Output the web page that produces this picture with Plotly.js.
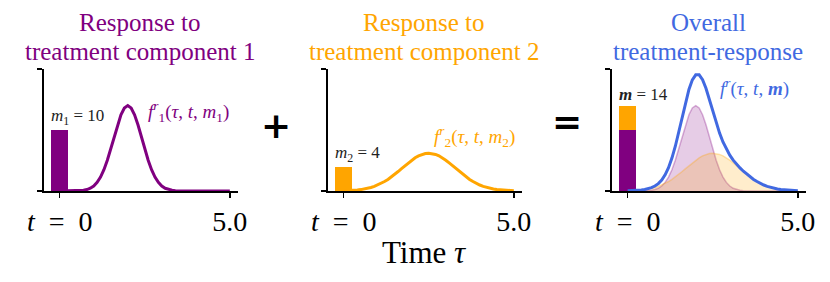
<!DOCTYPE html>
<html><head><meta charset="utf-8">
<script src="https://cdn.plot.ly/plotly-3.0.1.min.js"></script>
<style>html,body{margin:0;padding:0;background:#fff;}#c{width:830px;height:282px;}</style>
</head><body><div id="c"></div>
<script>
// Time grid (tau)
const tau = [0.0,0.1,0.2,0.3,0.4,0.5,0.6,0.7,0.8,0.9,1.0,1.1,1.2,1.3,1.4,1.5,1.6,1.7,1.8,1.9,2.0,2.1,2.2,2.3,2.4,2.5,2.6,2.7,2.8,2.9,3.0,3.1,3.2,3.3,3.4,3.5,3.6,3.7,3.8,3.9,4.0,4.1,4.2,4.3,4.4,4.5,4.6,4.7,4.8,4.9,5.0];
// Response to treatment component 1
const resp1 = [0,0,0,0,0.01,0.02,0.05,0.12,0.24,0.45,0.82,1.41,2.28,3.49,5.05,6.89,8.90,10.85,12.50,13.61,14.00,13.61,12.50,10.85,8.90,6.89,5.05,3.49,2.28,1.41,0.82,0.45,0.24,0.12,0.05,0.02,0.01,0,0,0,0,0,0,0,0,0,0,0,0,0,0];
// Response to treatment component 2
const resp2 = [0.04,0.05,0.08,0.12,0.17,0.23,0.32,0.43,0.58,0.76,0.98,1.24,1.55,1.90,2.29,2.73,3.19,3.66,4.14,4.61,5.05,5.44,5.76,6.00,6.15,6.20,6.15,6.00,5.76,5.44,5.05,4.61,4.14,3.66,3.19,2.73,2.29,1.90,1.55,1.24,0.98,0.76,0.58,0.43,0.32,0.23,0.17,0.12,0.08,0.05,0.04];
// Overall treatment-response
const respAll = [0.04,0.05,0.08,0.12,0.18,0.25,0.37,0.55,0.82,1.21,1.80,2.65,3.83,5.39,7.34,9.62,12.09,14.51,16.64,18.22,19.05,19.05,18.26,16.85,15.05,13.09,11.20,9.49,8.04,6.85,5.87,5.06,4.38,3.78,3.24,2.75,2.30,1.90,1.55,1.24,0.98,0.76,0.58,0.43,0.32,0.23,0.17,0.12,0.08,0.05,0.04];
// Treatment doses at t = 0
const doseT = [0];
const dose1 = [10];
const dose2 = [4];
const doseAll = 14;
const xTickVals = [0, 5];
const xTickText = ['<i>t</i>\u2002=\u20020', '5.0'];
const yTickVals = [0, 20];

const PURPLE = '#800080', ORANGE = '#FFA500', BLUE = '#4169E1';
const SERIF = 'Liberation Serif, DejaVu Serif, serif';
const W = 830, H = 282;
const px = v => v / W;
const py = v => (H - v) / H;

const traces = [
  {type:'bar', x:doseT, y:dose1, width:0.5, marker:{color:PURPLE}, xaxis:'x', yaxis:'y'},
  {type:'scatter', mode:'lines', x:tau, y:resp1, line:{color:PURPLE, width:3}, xaxis:'x', yaxis:'y'},
  {type:'bar', x:doseT, y:dose2, width:0.5, marker:{color:ORANGE}, xaxis:'x2', yaxis:'y2'},
  {type:'scatter', mode:'lines', x:tau, y:resp2, line:{color:ORANGE, width:3}, xaxis:'x2', yaxis:'y2'},
  {type:'bar', x:doseT, y:dose1, width:0.5, marker:{color:PURPLE}, xaxis:'x3', yaxis:'y3'},
  {type:'bar', x:doseT, y:dose2, width:0.5, marker:{color:ORANGE}, xaxis:'x3', yaxis:'y3'},
  {type:'scatter', mode:'lines', x:tau, y:resp1, fill:'tozeroy', fillcolor:'rgba(128,0,128,0.2)', line:{color:'rgba(128,0,128,0.3)', width:1.5}, xaxis:'x3', yaxis:'y3'},
  {type:'scatter', mode:'lines', x:tau, y:resp2, fill:'tozeroy', fillcolor:'rgba(255,165,0,0.2)', line:{color:'rgba(255,165,0,0.3)', width:1.5}, xaxis:'x3', yaxis:'y3'},
  {type:'scatter', mode:'lines', x:tau, y:respAll, line:{color:BLUE, width:3}, xaxis:'x3', yaxis:'y3'}
];

const panels = [[42, 238], [326, 522], [610, 806]];
const layout = {
  width: W, height: H, margin:{l:0,r:0,t:0,b:0},
  paper_bgcolor:'#fff', plot_bgcolor:'rgba(0,0,0,0)',
  showlegend:false, barmode:'stack',
  font:{family:SERIF, color:'#000'},
  annotations:[]
};
panels.forEach((p, i) => {
  const s = i === 0 ? '' : String(i + 1);
  layout['xaxis' + s] = {
    domain:[px(p[0]), px(p[1])], range:[-0.52, 5.24], anchor:'y' + s,
    showgrid:false, zeroline:false, showline:true, linecolor:'#000', linewidth:1.5,
    ticks:'outside', ticklen:5, tickwidth:1.5, tickcolor:'#000',
    tickvals:xTickVals, ticktext:xTickText, tickfont:{family:SERIF, size:28, color:'#000'},
    fixedrange:true
  };
  layout['yaxis' + s] = {
    domain:[py(191), py(69)], range:[0, 20], anchor:'free', position:px(p[0]),
    showgrid:false, zeroline:false, showline:true, linecolor:'#000', linewidth:1.5,
    ticks:'outside', ticklen:5, tickwidth:1.5, tickcolor:'#000',
    tickvals:yTickVals, showticklabels:false, fixedrange:true
  };
});

const titles = [
  ['Response to', 'treatment component 1', PURPLE],
  ['Response to', 'treatment component 2', ORANGE],
  ['Overall', 'treatment-response', BLUE]
];
titles.forEach((t, i) => {
  const cx = px((panels[i][0] + panels[i][1]) / 2);
  layout.annotations.push({xref:'paper', yref:'paper', x:cx, y:py(22.5),
    xanchor:'center', yanchor:'middle', text:t[0], showarrow:false, font:{family:SERIF, size:25, color:t[2]}});
  layout.annotations.push({xref:'paper', yref:'paper', x:cx, y:py(51.5),
    xanchor:'center', yanchor:'middle', text:t[1], showarrow:false, font:{family:SERIF, size:25, color:t[2]}});
});
// dose labels
layout.annotations.push({xref:'x', yref:'y', x:-0.3, y:dose1[0], xanchor:'left', yanchor:'bottom', yshift:0, showarrow:false,
  text:'<i>m</i><sub>1</sub> = ' + dose1[0], font:{family:SERIF, size:17, color:'#222'}});
layout.annotations.push({xref:'x2', yref:'y2', x:-0.3, y:dose2[0], xanchor:'left', yanchor:'bottom', yshift:0, showarrow:false,
  text:'<i>m</i><sub>2</sub> = ' + dose2[0], font:{family:SERIF, size:17, color:'#222'}});
layout.annotations.push({xref:'x3', yref:'y3', x:-0.3, y:doseAll, xanchor:'left', yanchor:'bottom', yshift:0, showarrow:false,
  text:'<b><i>m</i></b> = ' + doseAll, font:{family:SERIF, size:17, color:'#222'}});
// curve labels
layout.annotations.push({xref:'x', yref:'y', x:2.54, y:13.0, xanchor:'left', yanchor:'middle', showarrow:false,
  text:'<i>f</i><sup><i>r</i></sup><sub>1</sub>(<i>τ</i>, <i>t</i>, <i>m</i><sub>1</sub>)', font:{family:SERIF, size:19, color:PURPLE}});
layout.annotations.push({xref:'x2', yref:'y2', x:2.6, y:8.9, xanchor:'left', yanchor:'middle', showarrow:false,
  text:'<i>f</i><sup><i>r</i></sup><sub>2</sub>(<i>τ</i>, <i>t</i>, <i>m</i><sub>2</sub>)', font:{family:SERIF, size:19, color:ORANGE}});
layout.annotations.push({xref:'x3', yref:'y3', x:2.66, y:16.9, xanchor:'left', yanchor:'middle', showarrow:false,
  text:'<i>f</i><sup><i>r</i></sup>(<i>τ</i>, <i>t</i>, <b><i>m</i></b>)', font:{family:SERIF, size:19, color:BLUE}});
// operators
layout.annotations.push({xref:'paper', yref:'paper', x:px(276), y:py(125), xanchor:'center', yanchor:'middle', showarrow:false,
  text:'<b>+</b>', font:{family:'DejaVu Sans, sans-serif', size:36, color:'#000'}});
layout.annotations.push({xref:'paper', yref:'paper', x:px(567), y:py(122), xanchor:'center', yanchor:'middle', showarrow:false,
  text:'<b>=</b>', font:{family:'DejaVu Sans, sans-serif', size:36, color:'#000'}});
// shared x label
layout.annotations.push({xref:'paper', yref:'paper', x:px(424), y:py(252), xanchor:'center', yanchor:'middle', showarrow:false,
  text:'Time <i>τ</i>', font:{family:SERIF, size:31, color:'#000'}});

Plotly.newPlot('c', traces, layout, {staticPlot:true, displayModeBar:false});
</script></body></html>
